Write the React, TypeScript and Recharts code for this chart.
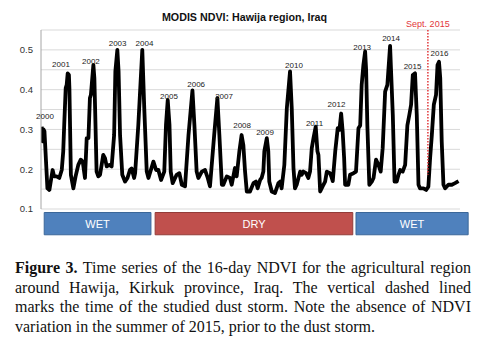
import React from 'react';
import { LineChart, Line, XAxis, YAxis, CartesianGrid, ReferenceLine, ReferenceDot, ReferenceArea } from 'recharts';

// time in decimal years (16-day MODIS composites)
const times = [
  2000.20, 2000.24, 2000.27, 2000.31, 2000.43, 2000.51, 2000.64, 2000.70, 2000.80, 2000.91,
  2001.01, 2001.07, 2001.11, 2001.17, 2001.21, 2001.25, 2001.30, 2001.32, 2001.38, 2001.48, 2001.57, 2001.68, 2001.78, 2001.86, 2001.95,
  2002.02, 2002.09, 2002.15, 2002.19, 2002.29, 2002.33, 2002.36, 2002.42, 2002.49, 2002.56, 2002.69, 2002.76, 2002.83, 2002.94,
  2003.03, 2003.13, 2003.18, 2003.26, 2003.31, 2003.37, 2003.46, 2003.57, 2003.67, 2003.77, 2003.84, 2003.94, 2003.98,
  2004.11, 2004.27, 2004.35, 2004.45, 2004.52, 2004.72, 2004.83, 2004.92,
  2005.03, 2005.16, 2005.23, 2005.30, 2005.37, 2005.42, 2005.50, 2005.66, 2005.77, 2005.87,
  2006.00, 2006.14, 2006.30, 2006.38, 2006.47, 2006.54, 2006.68, 2006.81, 2006.92,
  2007.01, 2007.18, 2007.31, 2007.39, 2007.49, 2007.55, 2007.69, 2007.82, 2007.89,
  2008.02, 2008.09, 2008.20, 2008.29, 2008.36, 2008.43, 2008.50, 2008.63, 2008.77, 2008.87, 2008.94,
  2009.04, 2009.10, 2009.17, 2009.21, 2009.31, 2009.37, 2009.41, 2009.51, 2009.64, 2009.78, 2009.85, 2009.91,
  2010.02, 2010.12, 2010.25, 2010.32, 2010.39, 2010.45, 2010.52, 2010.66, 2010.72, 2010.79, 2010.90, 2010.99,
  2011.06, 2011.13, 2011.20, 2011.29, 2011.36, 2011.40, 2011.47, 2011.57, 2011.67, 2011.74, 2011.87, 2011.94, 2011.98,
  2012.08, 2012.18, 2012.25, 2012.32, 2012.38, 2012.44, 2012.48, 2012.61, 2012.68, 2012.82, 2012.92,
  2013.02, 2013.09, 2013.15, 2013.22, 2013.29, 2013.33, 2013.38, 2013.46, 2013.56, 2013.63, 2013.73, 2013.83, 2013.92,
  2014.00, 2014.10, 2014.19, 2014.30, 2014.34, 2014.41, 2014.48, 2014.57, 2014.64, 2014.71, 2014.81, 2014.91,
  2015.00, 2015.08, 2015.15, 2015.22, 2015.31, 2015.38, 2015.45, 2015.51, 2015.65, 2015.76, 2015.85, 2015.92, 2015.99,
  2016.07, 2016.16, 2016.22, 2016.28, 2016.33, 2016.39, 2016.46, 2016.53, 2016.66, 2016.80, 2016.93, 2017.07,
];

const ndvi = [
  0.307, 0.270, 0.300, 0.295, 0.152, 0.148, 0.198, 0.182, 0.182, 0.178,
  0.198, 0.245, 0.312, 0.404, 0.412, 0.441, 0.437, 0.404, 0.186, 0.152, 0.182, 0.211, 0.224, 0.219, 0.178,
  0.278, 0.278, 0.379, 0.387, 0.462, 0.429, 0.353, 0.194, 0.182, 0.186, 0.236, 0.228, 0.207, 0.211,
  0.207, 0.286, 0.446, 0.500, 0.446, 0.286, 0.186, 0.169, 0.178, 0.198, 0.202, 0.178, 0.190,
  0.312, 0.500, 0.353, 0.194, 0.178, 0.219, 0.198, 0.198,
  0.173, 0.194, 0.312, 0.374, 0.312, 0.194, 0.165, 0.186, 0.190, 0.161,
  0.157, 0.286, 0.398, 0.310, 0.194, 0.178, 0.194, 0.198, 0.178,
  0.157, 0.286, 0.379, 0.286, 0.161, 0.161, 0.182, 0.178, 0.161,
  0.203, 0.182, 0.245, 0.286, 0.261, 0.194, 0.144, 0.144, 0.165, 0.169, 0.152,
  0.173, 0.178, 0.194, 0.245, 0.278, 0.245, 0.169, 0.144, 0.140, 0.165, 0.169, 0.152,
  0.211, 0.353, 0.446, 0.353, 0.203, 0.152, 0.161, 0.194, 0.186, 0.194, 0.190, 0.178,
  0.194, 0.253, 0.278, 0.307, 0.245, 0.236, 0.144, 0.157, 0.169, 0.194, 0.190, 0.178, 0.170,
  0.245, 0.303, 0.299, 0.340, 0.295, 0.228, 0.161, 0.161, 0.186, 0.190, 0.194,
  0.303, 0.310, 0.412, 0.462, 0.496, 0.450, 0.310, 0.161, 0.169, 0.178, 0.224, 0.211, 0.194,
  0.253, 0.395, 0.412, 0.510, 0.446, 0.337, 0.169, 0.169, 0.186, 0.198, 0.194, 0.211,
  0.310, 0.337, 0.362, 0.437, 0.441, 0.337, 0.161, 0.152, 0.152, 0.148, 0.156, 0.228, 0.286,
  0.362, 0.387, 0.462, 0.470, 0.429, 0.270, 0.161, 0.152, 0.161, 0.161, 0.165, 0.170,
];

// year annotations (text, anchor time, anchor NDVI level)
const yearNames = ['2000', '2001', '2002', '2003', '2004', '2005', '2006', '2007', '2008', '2009', '2010', '2011', '2012', '2013', '2014', '2015', '2016'];
const yearTimes = [2000.33, 2000.98, 2002.19, 2003.27, 2004.36, 2005.35, 2006.45, 2007.58, 2008.31, 2009.24, 2010.41, 2011.24, 2012.13, 2013.17, 2014.34, 2015.21, 2016.30];
const yearLevels = [0.334, 0.464, 0.472, 0.518, 0.518, 0.384, 0.415, 0.384, 0.312, 0.294, 0.462, 0.317, 0.364, 0.507, 0.529, 0.458, 0.492];

// climate periods (drawn as a band beneath the NDVI axis)
const periodNames = ['WET', 'DRY', 'WET'];
const periodStarts = [2000.30, 2004.79, 2012.92];
const periodEnds = [2004.62, 2012.79, 2017.46];
const periodFills = ['#4F81BD', '#C0504D', '#4F81BD'];
const periodStrokes = ['#3B6799', '#933C39', '#3B6799'];
const bandTop = 0.0912;
const bandBottom = 0.0352;

const stormTime = 2015.83;
const stormLabel = 'Sept. 2015';
const stormLevel = 0.186;

const yTicks = [0.1, 0.15, 0.2, 0.25, 0.3, 0.35, 0.4, 0.45, 0.5, 0.55];
const xDomain = [2000.17, 2017.13];

const data = times.map((t, i) => ({ t, ndvi: ndvi[i] }));

const fmtY = (v: number) => {
  const r = Math.round(v * 10);
  return Math.abs(v * 10 - r) < 1e-6 && v < 0.54 ? v.toFixed(1) : '';
};

const captionLines = [
  'Time series of the 16-day NDVI for the agricultural region',
  'around Hawija, Kirkuk province, Iraq. The vertical dashed lined',
  'marks the time of the studied dust storm. Note the absence of NDVI',
  'variation in the summer of 2015, prior to the dust storm.',
];

export default function App() {
  const sans = '"Liberation Sans", Arial, sans-serif';
  return (
    <div style={{ position: 'absolute', left: 0, top: 0, width: 485, height: 340, background: '#fff', overflow: 'hidden' }}>
      <div style={{ position: 'absolute', left: 0, top: 10, width: 489, textAlign: 'center', fontFamily: sans, fontWeight: 'bold', fontSize: 10.7, lineHeight: '14px', color: '#111' }}>
        MODIS NDVI: Hawija region, Iraq
      </div>
      <div style={{ position: 'absolute', left: 0, top: 0 }}>
        <LineChart width={485} height={240} data={data} margin={{ top: 30, right: 25, left: 0, bottom: 31 }}>
          <CartesianGrid vertical={false} stroke="#d9d9d9" strokeWidth={1} />
          <XAxis dataKey="t" type="number" domain={xDomain} allowDataOverflow hide />
          <YAxis
            type="number"
            domain={[0.1, 0.55]}
            ticks={yTicks}
            tickFormatter={fmtY}
            width={41}
            interval={0}
            allowDataOverflow
            axisLine={{ stroke: '#a6a6a6' }}
            tickLine={false}
            tick={{ fontSize: 9.5, fill: '#333', fontFamily: sans }}
          />
          {periodNames.map((n, i) => (
            <ReferenceArea
              key={'p' + i}
              x1={periodStarts[i]}
              x2={periodEnds[i]}
              y1={bandBottom}
              y2={bandTop}
              fill={periodFills[i]}
              fillOpacity={1}
              stroke={periodStrokes[i]}
              strokeWidth={1}
              ifOverflow="visible"
              label={{ value: n, position: 'center', fill: '#fff', fontSize: 11, fontFamily: sans }}
            />
          ))}
          {yearNames.map((y, i) => (
            <ReferenceDot
              key={y}
              x={yearTimes[i]}
              y={yearLevels[i]}
              r={0}
              fill="none"
              stroke="none"
              ifOverflow="visible"
              label={{ value: y, position: 'center', fontSize: 8, fill: '#222', fontFamily: sans }}
            />
          ))}
          <Line type="linear" dataKey="ndvi" stroke="#000" strokeWidth={3.8} dot={false} isAnimationActive={false} strokeLinejoin="round" />
          <ReferenceLine
            segment={[{ x: stormTime, y: 0.55 }, { x: stormTime, y: stormLevel }]}
            stroke="#E2363A"
            strokeWidth={1.5}
            strokeDasharray="1.5 1.5"
            ifOverflow="visible"
          />
          <ReferenceDot
            x={stormTime}
            y={0.55}
            r={0}
            fill="none"
            stroke="none"
            ifOverflow="visible"
            label={{ value: stormLabel, position: 'top', offset: 3, fontSize: 9, fill: '#E2363A', fontFamily: sans }}
          />
        </LineChart>
      </div>
      <div style={{ position: 'absolute', left: 15, top: 258, width: 456, fontFamily: '"Liberation Serif", "Times New Roman", serif', fontSize: 16, lineHeight: '19.5px', color: '#111' }}>
        {captionLines.map((line, i) => (
          <div key={i} style={{ textAlign: 'justify', textAlignLast: i < captionLines.length - 1 ? 'justify' : 'left', whiteSpace: 'nowrap' }}>
            {i === 0 ? <b>Figure 3. </b> : null}
            {line}
          </div>
        ))}
      </div>
    </div>
  );
}
